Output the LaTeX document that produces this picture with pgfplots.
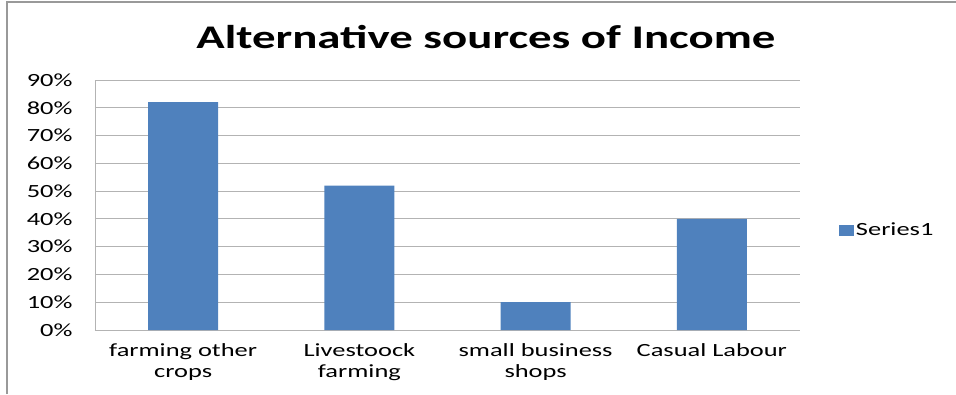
\documentclass[border=0pt]{standalone}
\usepackage{pgfplots}
\pgfplotsset{compat=1.18}
\usepackage{fontspec}
\setmainfont{Carlito}[FakeStretch=1.42]
\definecolor{barblue}{HTML}{4F81BD}
\definecolor{gridgray}{HTML}{B3B3B3}
\begin{document}
\begin{tikzpicture}[x=1pt,y=1pt]
\useasboundingbox (0,0) rectangle (956,394);
\draw[color=gray!80, line width=1.2pt] (7,0) -- (7,392) -- (956,392);
\node[font=\fontsize{33}{38}\selectfont\bfseries] at (486,357) {Alternative sources of Income};
\begin{axis}[
  at={(95pt,64pt)}, anchor=south west,
  scale only axis, width=705pt, height=250pt,
  xmin=-0.5, xmax=3.5, ymin=0, ymax=90,
  ybar, bar width=70pt,
  xtick={0,1,2,3},
  xticklabels={farming other\\crops, Livestoock\\farming, small business\\shops, Casual Labour},
  xticklabel style={align=center, font=\fontsize{18.6}{21}\selectfont, yshift=-10pt},
  ytick={0,10,...,90},
  yticklabel={\pgfmathprintnumber{\tick}\%},
  yticklabel style={font=\fontsize{18.6}{20}\selectfont, xshift=-19pt},
  /pgf/number format/assume math mode=true,
  major tick length=0pt,
  ymajorgrids, grid style={gridgray, line width=0.8pt},
  axis x line*=bottom, axis y line*=left,
  axis line style={gridgray, line width=0.8pt, -},
  legend style={draw=none, at={(1.055,0.4)}, anchor=west, font=\fontsize{18.6}{20}\selectfont, fill=none, inner sep=0pt},
  legend image code/.code={\fill[barblue] (0pt,-5.5pt) rectangle (15pt,5.5pt);},
]
\addplot[fill=barblue, draw=none] coordinates {(0,82) (1,52) (2,10) (3,40)};
\legend{Series1}
\end{axis}
\end{tikzpicture}
\end{document}
